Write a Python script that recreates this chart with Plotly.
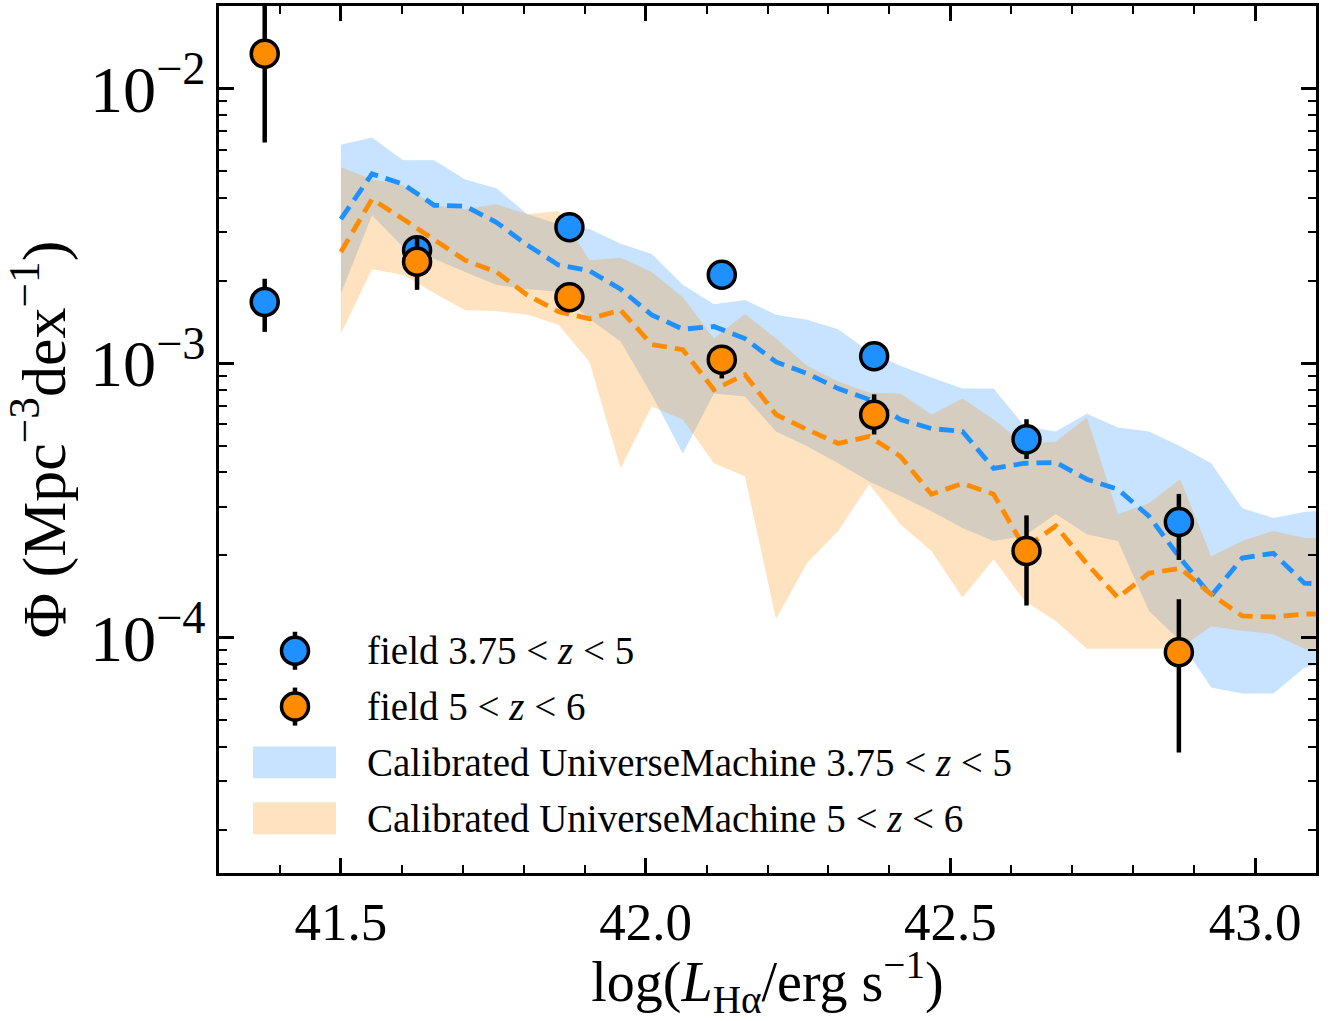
import plotly.graph_objects as go

# ---------------- data ----------------
x_field = [41.375, 41.625, 41.875, 42.125, 42.375, 42.625, 42.875]

phi_field_z4 = [1.67e-3, 2.58e-3, 3.13e-3, 2.10e-3, 1.06e-3, 5.28e-4, 2.64e-4]
phi_field_z4_hi = [2.03e-3, 2.76e-3, 3.35e-3, 2.25e-3, 1.14e-3, 6.25e-4, 3.34e-4]
phi_field_z4_lo = [1.30e-3, 2.41e-3, 2.93e-3, 1.96e-3, 0.99e-3, 4.48e-4, 1.92e-4]

phi_field_z5 = [1.34e-2, 2.34e-3, 1.74e-3, 1.03e-3, 6.49e-4, 2.07e-4, 8.85e-5]
phi_field_z5_hi = [2.3e-2, 2.90e-3, 1.86e-3, 1.10e-3, 7.7e-4, 2.79e-4, 1.38e-4]
phi_field_z5_lo = [6.37e-3, 1.85e-3, 1.63e-3, 8.8e-4, 5.5e-4, 1.31e-4, 3.82e-5]

x_model = [41.500, 41.551, 41.602, 41.653, 41.704, 41.755, 41.806, 41.857,
           41.908, 41.959, 42.010, 42.061, 42.112, 42.163, 42.214, 42.265,
           42.316, 42.367, 42.418, 42.469, 42.520, 42.571, 42.622, 42.673,
           42.724, 42.775, 42.826, 42.877, 42.928, 42.979, 43.030, 43.081,
           43.132]

um_z4_med = [3.35e-3, 4.89e-3, 4.49e-3, 3.76e-3, 3.73e-3, 3.26e-3, 2.69e-3, 2.28e-3,
             2.17e-3, 1.86e-3, 1.50e-3, 1.33e-3, 1.36e-3, 1.23e-3, 1.01e-3, 9.16e-4,
             8.08e-4, 7.37e-4, 6.23e-4, 5.78e-4, 5.64e-4, 4.14e-4, 4.32e-4, 4.35e-4,
             3.78e-4, 3.47e-4, 2.77e-4, 1.95e-4, 1.42e-4, 1.95e-4, 2.03e-4, 1.58e-4,
             1.56e-4]
um_z4_hi = [6.24e-3, 6.64e-3, 5.48e-3, 5.48e-3, 4.67e-3, 4.34e-3, 3.49e-3, 3.21e-3,
            3.08e-3, 2.72e-3, 2.50e-3, 1.93e-3, 1.64e-3, 1.70e-3, 1.50e-3, 1.44e-3,
            1.33e-3, 1.10e-3, 9.79e-4, 8.86e-4, 8.08e-4, 8.08e-4, 5.88e-4, 5.64e-4,
            6.55e-4, 5.83e-4, 5.64e-4, 4.98e-4, 4.32e-4, 2.96e-4, 2.73e-4, 2.87e-4,
            2.94e-4]
um_z4_lo = [1.79e-3, 3.46e-3, 2.65e-3, 2.40e-3, 2.15e-3, 1.93e-3, 1.86e-3, 1.82e-3,
            1.45e-3, 1.20e-3, 7.68e-4, 4.69e-4, 7.75e-4, 7.56e-4, 5.64e-4, 4.98e-4,
            4.32e-4, 3.71e-4, 3.28e-4, 2.89e-4, 2.51e-4, 2.25e-4, 2.35e-4, 2.82e-4,
            2.38e-4, 2.25e-4, 1.25e-4, 9.75e-5, 6.58e-5, 6.26e-5, 6.26e-5, 7.78e-5,
            8.25e-5]

um_z5_med = [2.54e-3, 3.96e-3, 3.35e-3, 2.83e-3, 2.37e-3, 2.15e-3, 1.77e-3, 1.54e-3,
             1.45e-3, 1.56e-3, 1.17e-3, 1.12e-3, 8.01e-4, 9.08e-4, 6.50e-4, 5.73e-4,
             5.10e-4, 5.41e-4, 4.58e-4, 3.33e-4, 3.65e-4, 3.33e-4, 2.12e-4, 2.55e-4,
             1.86e-4, 1.40e-4, 1.72e-4, 1.79e-4, 1.44e-4, 1.20e-4, 1.19e-4, 1.22e-4,
             1.22e-4]
um_z5_hi = [5.17e-3, 4.67e-3, 4.45e-3, 3.76e-3, 3.64e-3, 3.79e-3, 3.49e-3, 3.58e-3,
            2.37e-3, 2.42e-3, 2.15e-3, 1.74e-3, 1.23e-3, 1.51e-3, 1.23e-3, 9.79e-4,
            8.57e-4, 7.81e-4, 7.75e-4, 6.50e-4, 7.43e-4, 6.23e-4, 5.06e-4, 5.19e-4,
            6.34e-4, 2.82e-4, 3.09e-4, 3.78e-4, 1.98e-4, 2.25e-4, 2.45e-4, 2.31e-4,
            2.31e-4]
um_z5_lo = [1.28e-3, 2.20e-3, 2.10e-3, 1.80e-3, 1.56e-3, 1.55e-3, 1.50e-3, 1.38e-3,
            1.01e-3, 4.14e-4, 6.95e-4, 6.23e-4, 4.32e-4, 3.87e-4, 1.17e-4, 1.87e-4,
            2.45e-4, 3.62e-4, 2.59e-4, 2.07e-4, 1.40e-4, 1.93e-4, 1.36e-4, 1.15e-4,
            9.12e-5, 9.12e-5, 9.12e-5, 9.12e-5, 1.10e-4, 1.06e-4, 1.03e-4, 9.12e-5,
            8.97e-5]

x_tickvals = [41.5, 42.0, 42.5, 43.0]
x_ticktext = ["41.5", "42.0", "42.5", "43.0"]

legend_labels = ["field 3.75 < <i>z</i> < 5",
                 "field 5 < <i>z</i> < 6",
                 "Calibrated UniverseMachine 3.75 < <i>z</i> < 5",
                 "Calibrated UniverseMachine 5 < <i>z</i> < 6"]

# ---------------- styling ----------------
BLUE = "#1E90FF"
ORANGE = "#FF8C00"
BLUE_FILL = "rgba(30,144,255,0.25)"
ORANGE_FILL = "rgba(255,140,0,0.25)"
FONT = "Liberation Serif, Times New Roman, serif"

W, H = 1337, 1021
ML, MR, MT, MB = 219, 21, 3, 148
PW, PH = W - ML - MR, H - MT - MB


def px(xp):
    return (xp - ML) / PW


def py(yp):
    return (H - MB - yp) / PH


fig = go.Figure()

# model bands
fig.add_trace(go.Scatter(x=x_model, y=um_z4_lo, mode="lines", line=dict(width=0),
                         showlegend=False, hoverinfo="skip"))
fig.add_trace(go.Scatter(x=x_model, y=um_z4_hi, mode="lines", line=dict(width=0),
                         fill="tonexty", fillcolor=BLUE_FILL, showlegend=False,
                         name=legend_labels[2]))
fig.add_trace(go.Scatter(x=x_model, y=um_z5_lo, mode="lines", line=dict(width=0),
                         showlegend=False, hoverinfo="skip"))
fig.add_trace(go.Scatter(x=x_model, y=um_z5_hi, mode="lines", line=dict(width=0),
                         fill="tonexty", fillcolor=ORANGE_FILL, showlegend=False,
                         name=legend_labels[3]))

# model medians (dashed)
fig.add_trace(go.Scatter(x=x_model, y=um_z4_med, mode="lines",
                         line=dict(color=BLUE, width=4.8, dash="15px,8px"),
                         showlegend=False))
fig.add_trace(go.Scatter(x=x_model, y=um_z5_med, mode="lines",
                         line=dict(color=ORANGE, width=4.8, dash="15px,8px"),
                         showlegend=False))


# field measurements
def add_points(y, hi, lo, color, name):
    fig.add_trace(go.Scatter(
        x=x_field, y=y, mode="markers", name=name, showlegend=False,
        marker=dict(color=color, size=27, line=dict(color="black", width=3.5)),
        error_y=dict(type="data", symmetric=False,
                     array=[h - v for h, v in zip(hi, y)],
                     arrayminus=[v - l for v, l in zip(y, lo)],
                     color="black", thickness=4.5, width=0),
    ))


add_points(phi_field_z4, phi_field_z4_hi, phi_field_z4_lo, BLUE, legend_labels[0])
add_points(phi_field_z5, phi_field_z5_hi, phi_field_z5_lo, ORANGE, legend_labels[1])

# ---------------- hand-drawn legend (matplotlib-like) ----------------
shapes = []
annotations = []
row_y = [650, 706, 762, 818]
symbol_x = 295
text_x = 365
kinds = [("marker", BLUE), ("marker", ORANGE), ("patch", BLUE_FILL), ("patch", ORANGE_FILL)]
for (kind, col), ry, lab in zip(kinds, row_y, legend_labels):
    if kind == "marker":
        shapes.append(dict(type="line", xref="paper", yref="paper",
                           xsizemode="pixel", ysizemode="pixel",
                           xanchor=px(symbol_x), yanchor=py(ry),
                           x0=0, x1=0, y0=-19, y1=19,
                           line=dict(color="black", width=4.5), layer="above"))
        shapes.append(dict(type="circle", xref="paper", yref="paper",
                           xsizemode="pixel", ysizemode="pixel",
                           xanchor=px(symbol_x), yanchor=py(ry),
                           x0=-13.5, x1=13.5, y0=-13.5, y1=13.5,
                           fillcolor=col, line=dict(color="black", width=3.5),
                           layer="above"))
    else:
        shapes.append(dict(type="rect", xref="paper", yref="paper",
                           x0=px(253), x1=px(336), y0=py(ry + 16), y1=py(ry - 16),
                           fillcolor=col, line=dict(width=0), layer="above"))
    annotations.append(dict(text=lab, xref="paper", yref="paper",
                            x=px(text_x), y=py(ry), xanchor="left", yanchor="middle",
                            showarrow=False,
                            font=dict(family=FONT, size=39, color="black")))

axis_common = dict(
    showline=True, linecolor="black", linewidth=2.8, mirror="allticks",
    ticks="inside", ticklen=15, tickwidth=2.5, tickcolor="black",
    showgrid=False, zeroline=False,
    tickfont=dict(family=FONT, size=53, color="black"),
)

fig.update_xaxes(
    range=[41.3, 43.1], tickvals=x_tickvals, ticktext=x_ticktext,
    minor=dict(ticks="inside", ticklen=8, tickwidth=2, dtick=0.1, tick0=41.5,
               tickcolor="black", showgrid=False),
    title=dict(text="log(<i>L</i><sub>Hα</sub>/erg s<sup>−1</sup>)",
               font=dict(family=FONT, size=56, color="black"), standoff=20),
    **axis_common,
)
fig.update_yaxes(
    type="log", range=[-4.857, -1.699], dtick=1, exponentformat="power",
    minor=dict(ticks="inside", ticklen=8, tickwidth=2, dtick="D1",
               tickcolor="black", showgrid=False),
    title=dict(text="Φ (Mpc<sup>−3</sup>dex<sup>−1</sup>)",
               font=dict(family=FONT, size=62, color="black"), standoff=8),
    **axis_common,
)

fig.update_layout(
    width=W, height=H,
    margin=dict(l=ML, r=MR, t=MT, b=MB),
    paper_bgcolor="white", plot_bgcolor="white",
    font=dict(family=FONT, color="black"),
    showlegend=False,
    shapes=shapes, annotations=annotations,
)

fig.write_html("out.html")
